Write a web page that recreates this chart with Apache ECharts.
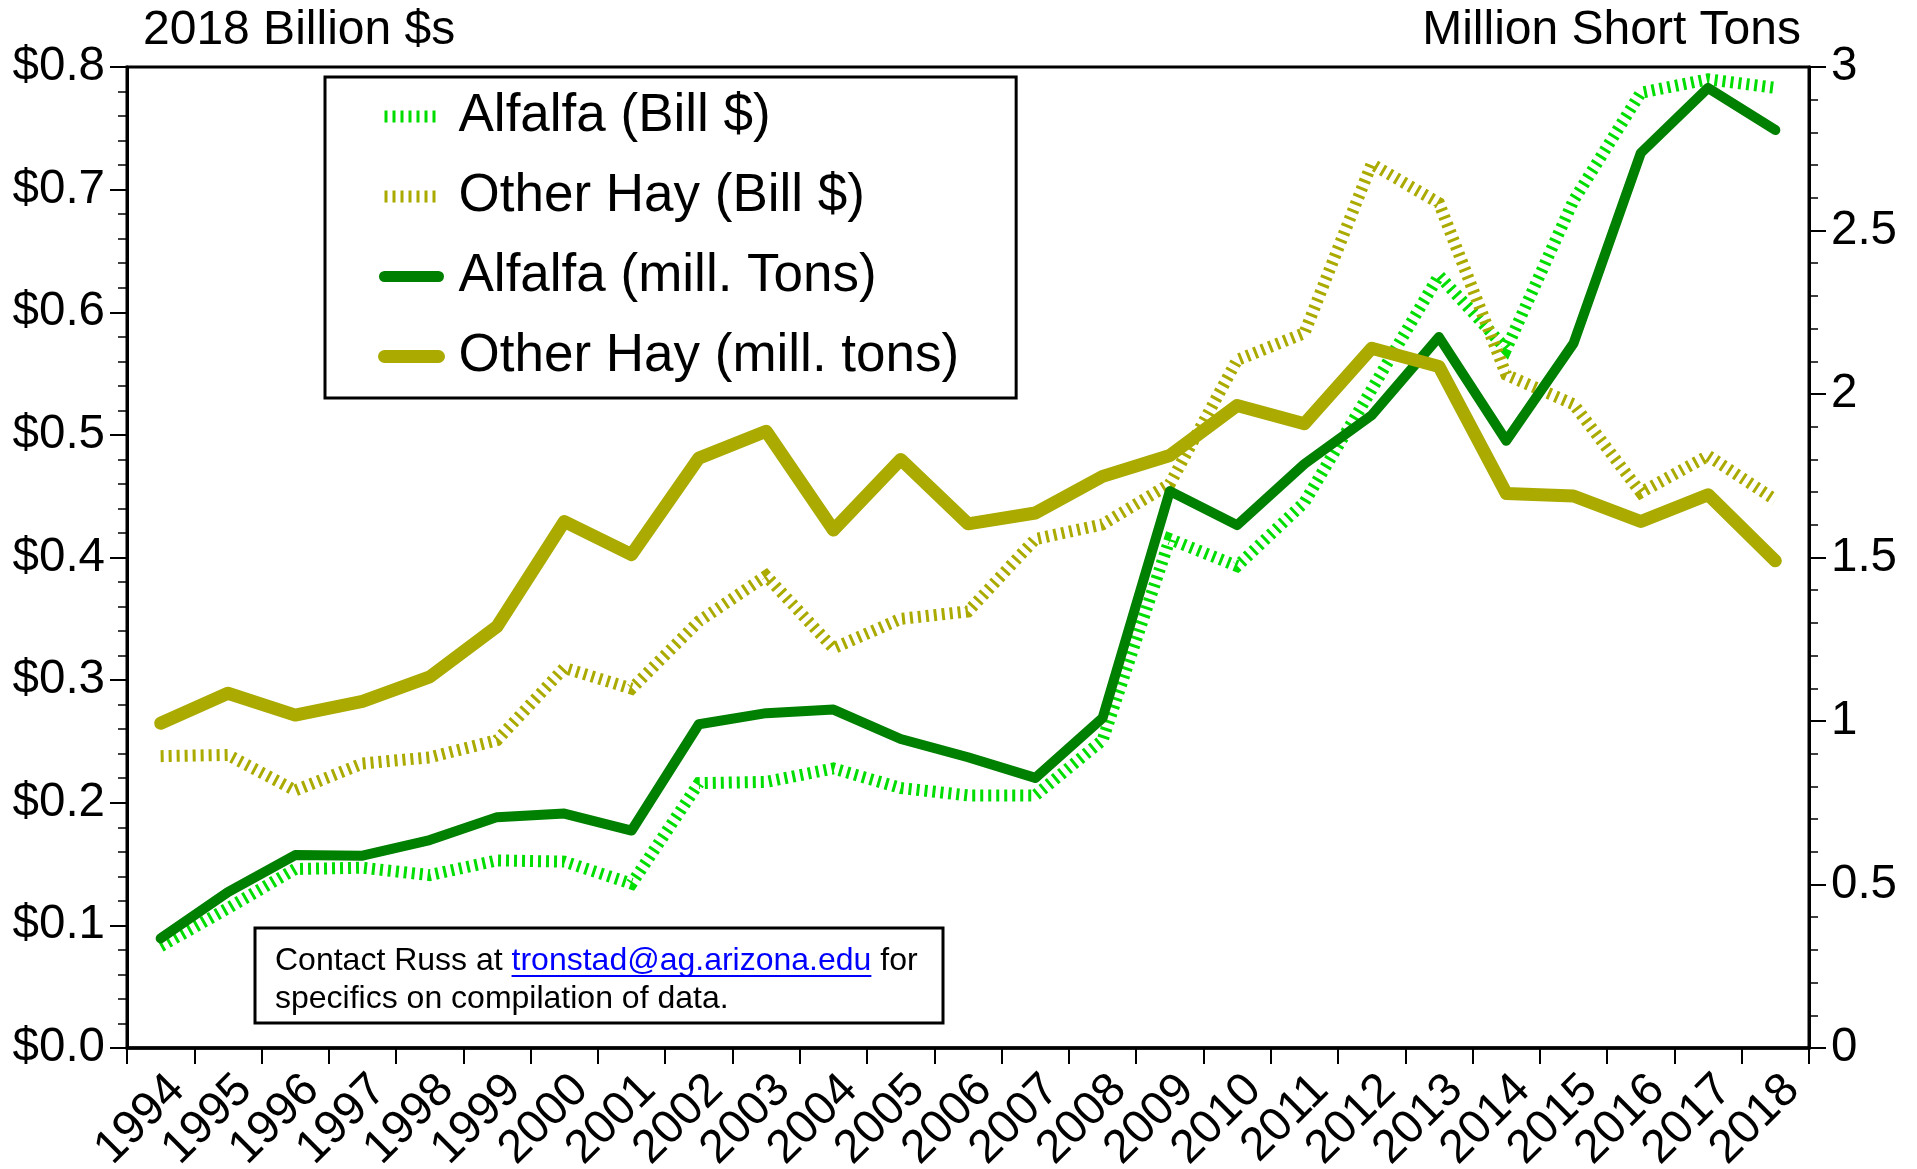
<!DOCTYPE html>
<html>
<head>
<meta charset="utf-8">
<script src="https://cdn.jsdelivr.net/npm/echarts@6/dist/echarts.min.js"></script>
<style>
html,body{margin:0;padding:0;background:#fff;}
#c{width:1917px;height:1169px;}
</style>
</head>
<body>
<div id="c"></div>
<script>
const years = ['1994','1995','1996','1997','1998','1999','2000','2001','2002','2003','2004','2005','2006','2007','2008','2009','2010','2011','2012','2013','2014','2015','2016','2017','2018'];
// Billion 2018 $ (left axis)
const alfalfaValue = [0.083,0.114,0.146,0.147,0.141,0.153,0.152,0.134,0.216,0.217,0.228,0.212,0.206,0.206,0.251,0.415,0.393,0.445,0.537,0.630,0.570,0.691,0.779,0.790,0.783];
const otherHayValue = [0.238,0.239,0.210,0.232,0.237,0.251,0.310,0.293,0.348,0.385,0.326,0.350,0.356,0.415,0.427,0.460,0.561,0.583,0.721,0.689,0.549,0.525,0.453,0.483,0.447];
// Million short tons (right axis)
const alfalfaTons = [0.335,0.477,0.590,0.588,0.636,0.706,0.717,0.665,0.990,1.024,1.035,0.945,0.889,0.826,1.009,1.703,1.599,1.786,1.935,2.174,1.857,2.155,2.737,2.936,2.807];
const otherHayTons = [0.993,1.085,1.018,1.060,1.135,1.289,1.610,1.509,1.804,1.886,1.584,1.800,1.603,1.636,1.748,1.812,1.965,1.909,2.140,2.084,1.696,1.688,1.610,1.692,1.490];
const leftTicks = [0,0.1,0.2,0.3,0.4,0.5,0.6,0.7,0.8];
const rightTicks = [0,0.5,1,1.5,2,2.5,3];
const seriesNames = ['Alfalfa (Bill $)','Other Hay (Bill $)','Alfalfa (mill. Tons)','Other Hay (mill. tons)'];

const FONT = '"Liberation Sans", Arial, Helvetica, sans-serif';
const C_BRIGHT = '#00dd00', C_DARK = '#008000', C_OLIVE = '#aaaa00';
const DOT = [3,5];
const HIDE = {color: 'rgba(0,0,0,0)', borderColor: 'rgba(0,0,0,0)', borderWidth: 0, opacity: 0};

// measure text for the link underline
const mctx = document.createElement('canvas').getContext('2d');
const NOTE_FONT = '32px ' + FONT;
mctx.font = NOTE_FONT;
const preW = mctx.measureText('Contact Russ at ').width;
const linkW = mctx.measureText('tronstad@ag.arizona.edu').width;
const NOTE_X = 275;

const chart = echarts.init(document.getElementById('c'));
chart.setOption({
  animation: false,
  backgroundColor: '#ffffff',
  textStyle: {fontFamily: FONT, color: '#000'},
  grid: {left: 127, right: 108, top: 67, bottom: 121, show: true, borderColor: '#000', borderWidth: 3,
    backgroundColor: 'transparent', containLabel: false, outerBoundsMode: 'none'},
  legend: {
    orient: 'vertical', left: 325, top: 77,
    padding: [13, 57, 15, 53],
    borderColor: '#000', borderWidth: 3,
    itemWidth: 54, itemHeight: 14, itemGap: 27,
    textStyle: {fontSize: 53, fontFamily: FONT, color: '#000', lineHeight: 52, padding: [0,0,0,15]},
    data: [
      {name: seriesNames[0], itemStyle: HIDE, lineStyle: {color: C_BRIGHT, width: 12, type: DOT}},
      {name: seriesNames[1], itemStyle: HIDE, lineStyle: {color: C_OLIVE, width: 12, type: DOT}},
      {name: seriesNames[2], itemStyle: HIDE, lineStyle: {color: C_DARK, width: 11, type: 'solid'}},
      {name: seriesNames[3], itemStyle: HIDE, lineStyle: {color: C_OLIVE, width: 13, type: 'solid'}}
    ]
  },
  xAxis: {
    type: 'category', data: years, boundaryGap: true,
    axisLine: {lineStyle: {color: '#000', width: 3.5}},
    axisTick: {show: true, interval: 0, length: 16, lineStyle: {color: '#000', width: 2}},
    axisLabel: {interval: 0, rotate: 45, fontSize: 47, fontFamily: FONT, color: '#000', margin: 18, verticalAlign: 'top'},
    splitLine: {show: false}
  },
  yAxis: [
    {
      type: 'value', min: 0, max: 0.8, interval: 0.1, position: 'left',
      axisLine: {show: true, lineStyle: {color: '#000', width: 3}},
      axisTick: {show: true, length: 17, lineStyle: {color: '#000', width: 2}},
      minorTick: {show: true, splitNumber: 5, length: 9, lineStyle: {color: '#000', width: 1.5}},
      axisLabel: {fontSize: 47.5, fontFamily: FONT, color: '#000', margin: 22,
        formatter: v => { const t = leftTicks.find(x => Math.abs(x - v) < 1e-9); return '$' + (t !== undefined ? t : v).toFixed(1); }},
      splitLine: {show: false}
    },
    {
      type: 'value', min: 0, max: 3, interval: 0.5, position: 'right',
      axisLine: {show: true, lineStyle: {color: '#000', width: 3}},
      axisTick: {show: true, length: 17, lineStyle: {color: '#000', width: 2}},
      minorTick: {show: true, splitNumber: 5, length: 9, lineStyle: {color: '#000', width: 1.5}},
      axisLabel: {fontSize: 47.5, fontFamily: FONT, color: '#000', margin: 22,
        formatter: v => { const t = rightTicks.find(x => Math.abs(x - v) < 1e-9); return String(t !== undefined ? t : v); }},
      splitLine: {show: false}
    }
  ],
  series: [
    {name: seriesNames[0], type: 'line', yAxisIndex: 0, data: alfalfaValue, symbol: 'none', z: 2,
      lineStyle: {color: C_BRIGHT, width: 12, type: DOT, cap: 'butt', join: 'miter'}, itemStyle: {color: C_BRIGHT}},
    {name: seriesNames[1], type: 'line', yAxisIndex: 0, data: otherHayValue, symbol: 'none', z: 2,
      lineStyle: {color: C_OLIVE, width: 12, type: DOT, cap: 'butt', join: 'miter'}, itemStyle: {color: C_OLIVE}},
    {name: seriesNames[2], type: 'line', yAxisIndex: 1, data: alfalfaTons, symbol: 'none', z: 3,
      lineStyle: {color: C_DARK, width: 10, cap: 'round', join: 'round'}, itemStyle: {color: C_DARK}},
    {name: seriesNames[3], type: 'line', yAxisIndex: 1, data: otherHayTons, symbol: 'none', z: 3,
      lineStyle: {color: C_OLIVE, width: 13, cap: 'round', join: 'round'}, itemStyle: {color: C_OLIVE}}
  ],
  graphic: [
    {type: 'text', left: 143, top: 7, style: {text: '2018 Billion $s', font: '48px ' + FONT, fill: '#000'}},
    {type: 'text', right: 116, top: 7, style: {text: 'Million Short Tons', font: '48px ' + FONT, fill: '#000'}},
    {type: 'rect', shape: {x: 255, y: 928, width: 688, height: 95}, style: {fill: '#fff', stroke: '#000', lineWidth: 3}, z: 10},
    {type: 'text', x: NOTE_X, y: 961, z: 11, style: {
      text: 'Contact Russ at {l|tronstad@ag.arizona.edu} for', font: NOTE_FONT, fill: '#000', verticalAlign: 'middle',
      rich: {l: {fill: '#0000ff', font: NOTE_FONT}}}},
    {type: 'line', shape: {x1: NOTE_X + preW, y1: 976, x2: NOTE_X + preW + linkW, y2: 976}, style: {stroke: '#0000ff', lineWidth: 2}, z: 11},
    {type: 'text', x: NOTE_X, y: 999, z: 11, style: {text: 'specifics on compilation of data.', font: NOTE_FONT, fill: '#000', verticalAlign: 'middle'}}
  ]
});
</script>
</body>
</html>
